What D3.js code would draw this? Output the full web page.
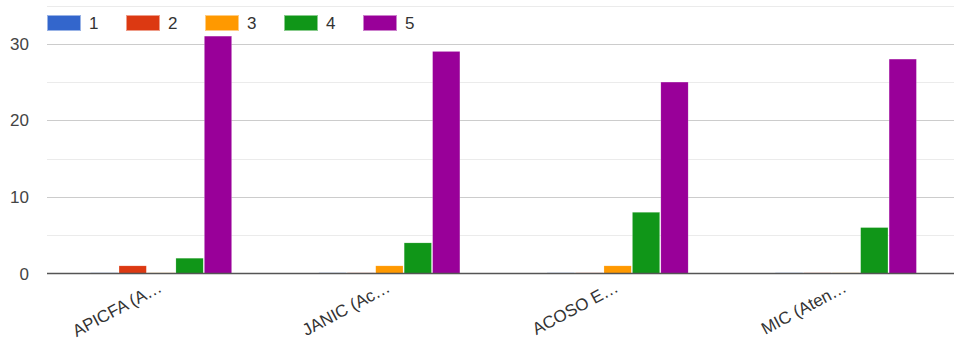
<!DOCTYPE html>
<html>
<head>
<meta charset="utf-8">
<script src="https://cdn.jsdelivr.net/npm/d3@7"></script>
<style>
  body { margin: 0; background: #fff; }
  text { font-family: "Liberation Sans", Arial, sans-serif; }
</style>
</head>
<body>
<div id="chart"></div>
<script>
// data
const categories = ["APICFA (A…", "JANIC (Ac…", "ACOSO E…", "MIC (Aten…"];
const seriesNames = ["1", "2", "3", "4", "5"];
const series1 = [0, 0, 0, 0];
const series2 = [1, 0, 0, 0];
const series3 = [0, 1, 1, 0];
const series4 = [2, 4, 8, 6];
const series5 = [31, 29, 25, 28];
const yTicks = [0, 10, 20, 30];
const yGrid = [5, 15, 25, 35];

const colors = ["#3366cc", "#dc3912", "#ff9900", "#109618", "#990099"];
const allSeries = [series1, series2, series3, series4, series5];

const W = 954, H = 343;
const plotLeft = 47, plotRight = 954;
const plotTop = 5.5, plotBottom = 273.5;

const svg = d3.select("#chart").append("svg")
    .attr("width", W)
    .attr("height", H);

// group scale runs a bit past the right edge, like the source chart
const x0 = d3.scaleBand()
    .domain(categories)
    .range([plotLeft, 960])
    .paddingInner(0.382)
    .paddingOuter(0.191);

const x1 = d3.scaleBand()
    .domain(seriesNames)
    .range([0, x0.bandwidth()])
    .paddingInner(0.04);

const y = d3.scaleLinear()
    .domain([0, 35])
    .range([plotBottom, plotTop]);

// minor gridlines
svg.append("g").selectAll("line")
    .data(yGrid).enter().append("line")
    .attr("x1", plotLeft).attr("x2", plotRight)
    .attr("y1", d => Math.round(y(d)) + 0.5).attr("y2", d => Math.round(y(d)) + 0.5)
    .attr("stroke", "#ebebeb");

// major gridlines
svg.append("g").selectAll("line")
    .data(yTicks.filter(d => d > 0)).enter().append("line")
    .attr("x1", plotLeft).attr("x2", plotRight)
    .attr("y1", d => Math.round(y(d)) + 0.5).attr("y2", d => Math.round(y(d)) + 0.5)
    .attr("stroke", "#cccccc");

// y labels
svg.append("g").selectAll("text")
    .data(yTicks).enter().append("text")
    .attr("x", 29)
    .attr("y", d => y(d))
    .attr("dy", "0.36em")
    .attr("text-anchor", "end")
    .attr("font-size", 17)
    .attr("fill", "#444")
    .text(d => d);

// bars
const rows = categories.map((c, i) => ({
    cat: c,
    vals: seriesNames.map((s, j) => ({ key: s, v: allSeries[j][i], color: colors[j] }))
}));

const groups = svg.append("g").selectAll("g")
    .data(rows).enter().append("g")
    .attr("transform", d => "translate(" + x0(d.cat) + ",0)");

groups.selectAll("rect")
    .data(d => d.vals).enter().append("rect")
    .attr("x", d => x1(d.key))
    .attr("width", x1.bandwidth())
    .attr("y", d => d.v > 0 ? y(d.v) : plotBottom - 1.5)
    .attr("height", d => d.v > 0 ? plotBottom - y(d.v) : 1.5)
    .attr("fill", d => d.color)
    .attr("fill-opacity", d => d.v > 0 ? 1 : 0.12)
    .attr("stroke", "#fff")
    .attr("stroke-opacity", d => d.v > 0 ? 0.4 : 0)
    .attr("stroke-width", 0.5);

// baseline
svg.append("line")
    .attr("x1", plotLeft).attr("x2", plotRight)
    .attr("y1", plotBottom).attr("y2", plotBottom)
    .attr("stroke", "#555").attr("stroke-width", 1.5);

// x labels, rotated
svg.append("g").selectAll("text")
    .data(categories).enter().append("text")
    .attr("text-anchor", "end")
    .attr("font-size", 17)
    .attr("fill", "#333")
    .attr("transform", d => "translate(" + (x0(d) + x0.bandwidth() / 2 + 2) + ",291) rotate(-28)")
    .text(d => d);

// legend
const legend = svg.append("g").selectAll("g")
    .data(seriesNames).enter().append("g")
    .attr("transform", (d, i) => "translate(" + (47 + i * 79) + ",15)");

legend.append("rect")
    .attr("x", 0.5).attr("y", 0.5)
    .attr("width", 33).attr("height", 15)
    .attr("fill", (d, i) => colors[i])
    .attr("stroke", (d, i) => d3.interpolateRgb(colors[i], "#fff")(0.5))
    .attr("stroke-width", 1);

legend.append("text")
    .attr("x", 42)
    .attr("y", 8)
    .attr("dy", "0.36em")
    .attr("font-size", 17)
    .attr("fill", "#333")
    .text(d => d);
</script>
</body>
</html>
